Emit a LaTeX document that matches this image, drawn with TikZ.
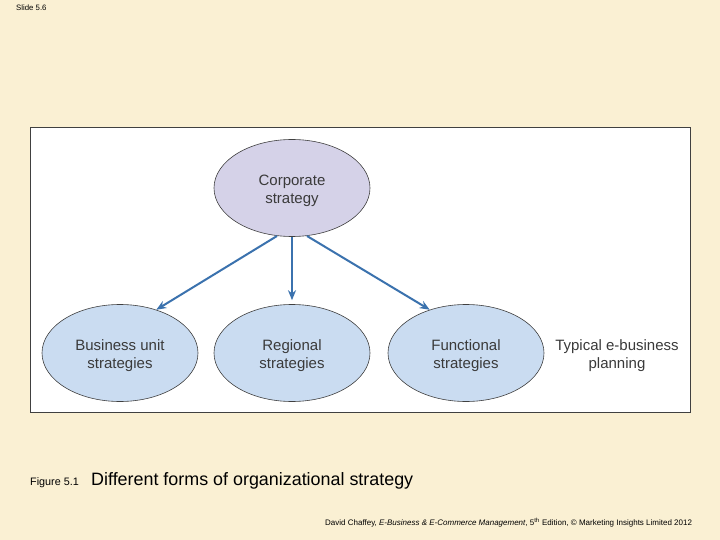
\documentclass[tikz,border=0pt]{standalone}
\usepackage{fontspec}
\setmainfont{Liberation Sans}
\usetikzlibrary{arrows.meta,shapes.geometric}
\definecolor{cream}{HTML}{FAF0D3}
\definecolor{lav}{HTML}{D5D2E8}
\definecolor{lblue}{HTML}{CADCF1}
\definecolor{arr}{HTML}{3B72AE}
\definecolor{txt}{HTML}{3A3A3A}
\tikzset{
  oval/.style={ellipse, draw=black!75, line width=0.6pt, minimum width=156pt, minimum height=97pt, inner sep=0pt},
  otext/.style={align=center, text=txt, font=\fontsize{15}{18}\selectfont, yshift=-3pt, inner sep=0pt},
  conn/.style={draw=arr, line width=2pt, -{Stealth[length=10pt,width=8pt]}},
}
\begin{document}
\begin{tikzpicture}[x=1pt,y=-1pt]
\useasboundingbox (0,0) rectangle (720,540);
\fill[cream] (0,0) rectangle (720,540);
\draw[fill=white, draw=black!75, line width=0.9pt] (30,127) rectangle (690,412);
\node[oval, fill=lav, label={[otext]center:Corporate\\strategy}] (corp) at (292,188) {};
\node[oval, fill=lblue, label={[otext]center:Business unit\\strategies}] (bus) at (120,353) {};
\node[oval, fill=lblue, label={[otext]center:Regional\\strategies}] (reg) at (292,353) {};
\node[oval, fill=lblue, label={[otext]center:Functional\\strategies}] (fun) at (466,353) {};
\node[otext] (typ) at (617,353) {Typical e-business\\planning};
\coordinate (c1) at (277,236);
\coordinate (c2) at (292,237);
\coordinate (c3) at (307,236);
\draw[conn] (c1) -- (bus.50);
\draw[conn, shorten >=4pt] (c2) -- (reg.north);
\draw[conn] (c3) -- (fun.130);
\node[anchor=west, inner sep=0pt, font=\fontsize{7.8}{9}\selectfont] (slide) at (16,8) {Slide 5.6};
\node[anchor=base west, inner sep=0pt, font=\fontsize{10.8}{12}\selectfont] (fig) at (30,485) {Figure 5.1};
\node[anchor=base west, inner sep=0pt, font=\fontsize{17.9}{20}\selectfont] (cap) at (91,485) {Different forms of organizational strategy};
\node[anchor=base west, inner sep=0pt, font=\fontsize{8}{9}\selectfont] (foot) at (325,525) {David Chaffey, \textit{E-Business \& E-Commerce Management}, 5\textsuperscript{th} Edition, © Marketing Insights Limited 2012};
\end{tikzpicture}
\end{document}
